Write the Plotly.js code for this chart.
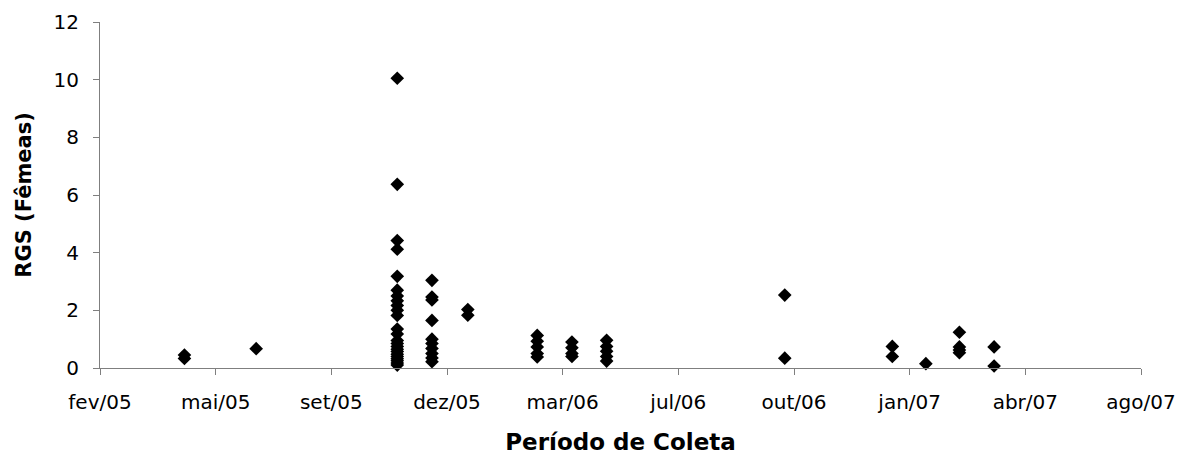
<!DOCTYPE html>
<html>
<head>
<meta charset="utf-8">
<script src="https://cdn.plot.ly/plotly-3.0.1.min.js"></script>
<style>
  html, body { margin: 0; padding: 0; background: #ffffff; }
  #chart { width: 1196px; height: 456px; }
</style>
</head>
<body>
<div id="chart"></div>
<script>
// Collection dates and RGS (females) values
const collectionDates = [
  "2005-05-01", "2005-07-02", "2005-11-01", "2005-12-01", "2006-01-01",
  "2006-03-02", "2006-04-01", "2006-05-01", "2006-10-02", "2007-01-03",
  "2007-02-01", "2007-03-02", "2007-04-01"
];
const rgsMay05 = [0.45, 0.33];
const rgsJul05 = [0.67];
const rgsNov05 = [10.05, 6.37, 4.42, 4.12, 3.18, 2.70, 2.50, 2.33, 2.17, 2.00, 1.82, 1.35, 1.18,
                  0.95, 0.85, 0.75, 0.65, 0.57, 0.48, 0.40, 0.32, 0.25, 0.17, 0.10];
const rgsDec05 = [3.04, 2.46, 2.36, 1.65, 1.00, 0.85, 0.68, 0.50, 0.35, 0.22];
const rgsJan06 = [2.03, 1.83];
const rgsMar06 = [1.13, 0.93, 0.73, 0.50, 0.38];
const rgsApr06 = [0.90, 0.70, 0.50, 0.40];
const rgsMay06 = [0.96, 0.75, 0.58, 0.40, 0.24];
const rgsOct06 = [2.53, 0.34];
const rgsJan07 = [0.75, 0.40];
const rgsFeb07 = [0.15];
const rgsMar07 = [1.24, 0.73, 0.62, 0.53];
const rgsApr07 = [0.73, 0.07];
const rgsByDate = [rgsMay05, rgsJul05, rgsNov05, rgsDec05, rgsJan06, rgsMar06, rgsApr06,
                   rgsMay06, rgsOct06, rgsJan07, rgsFeb07, rgsMar07, rgsApr07];

// X axis ticks (Excel date axis: every 100 days from 17 Feb 2005)
const tickDates = ["2005-02-17", "2005-05-28", "2005-09-05", "2005-12-14", "2006-03-24",
                   "2006-07-02", "2006-10-10", "2007-01-18", "2007-04-28", "2007-08-06"];
const tickLabels = ["fev/05", "mai/05", "set/05", "dez/05", "mar/06",
                    "jul/06", "out/06", "jan/07", "abr/07", "ago/07"];
const yTicks = [0, 2, 4, 6, 8, 10, 12];

const xs = [], ys = [];
collectionDates.forEach((d, i) => {
  rgsByDate[i].forEach(v => { xs.push(d); ys.push(v); });
});

const trace = {
  type: "scatter",
  mode: "markers",
  x: xs,
  y: ys,
  cliponaxis: false,
  marker: { symbol: "diamond", size: 10.5, color: "#000000", line: { width: 0 } },
  hoverinfo: "x+y"
};

const axisColor = "#7f7f7f";
const layout = {
  width: 1196,
  height: 456,
  margin: { l: 100, r: 55, t: 22, b: 88 },
  paper_bgcolor: "#ffffff",
  plot_bgcolor: "#ffffff",
  showlegend: false,
  font: { family: "DejaVu Sans, sans-serif", color: "#000000", size: 20 },
  xaxis: {
    type: "date",
    range: [tickDates[0], tickDates[tickDates.length - 1]],
    tickmode: "array",
    tickvals: tickDates,
    ticktext: tickLabels,
    ticks: "outside",
    ticklen: 6,
    tickwidth: 1,
    tickcolor: axisColor,
    showline: true,
    linecolor: axisColor,
    linewidth: 1,
    showgrid: false,
    zeroline: false,
    tickfont: { family: "DejaVu Sans, sans-serif", size: 20, color: "#000000" },
    ticklabelstandoff: 10,
    title: {
      text: "Período de Coleta",
      font: { family: "DejaVu Sans, sans-serif", size: 23, color: "#000000", weight: "bold" },
      standoff: 20
    }
  },
  yaxis: {
    range: [0, 12],
    tickmode: "array",
    tickvals: yTicks,
    ticks: "outside",
    ticklen: 6,
    tickwidth: 1,
    tickcolor: axisColor,
    showline: true,
    linecolor: axisColor,
    linewidth: 1,
    showgrid: false,
    zeroline: false,
    tickfont: { family: "DejaVu Sans, sans-serif", size: 20, color: "#000000" },
    ticklabelstandoff: 10,
    title: {
      text: "RGS (Fêmeas)",
      font: { family: "DejaVu Sans, sans-serif", size: 21, color: "#000000", weight: "bold" },
      standoff: 16
    }
  }
};

Plotly.newPlot("chart", [trace], layout, { displayModeBar: false, staticPlot: true });
</script>
</body>
</html>
